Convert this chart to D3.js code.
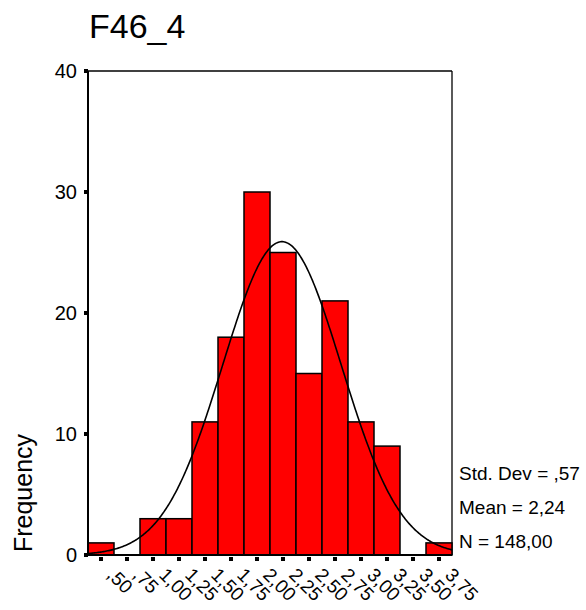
<!DOCTYPE html>
<html>
<head>
<meta charset="utf-8">
<script src="https://cdn.jsdelivr.net/npm/d3@7"></script>
<style>
html,body{margin:0;padding:0;background:#fff;}
svg{display:block;font-family:"Liberation Sans",Arial,Helvetica,sans-serif;}
</style>
</head>
<body>
<svg id="chart" width="586" height="610"></svg>
<script>
// ---- data ----
const binCenters = [0.50,0.75,1.00,1.25,1.50,1.75,2.00,2.25,2.50,2.75,3.00,3.25,3.50,3.75];
const frequencies = [1,0,3,3,11,18,30,25,15,21,11,9,0,1];
const xTickLabels = [",50",",75","1,00","1,25","1,50","1,75","2,00","2,25","2,50","2,75","3,00","3,25","3,50","3,75"];
const yTicks = [0,10,20,30,40];
const statLines = ["Std. Dev = ,57","Mean = 2,24","N = 148,00"];
const stdDev = 0.57, mean = 2.24, nCases = 148;
const binWidth = 0.25;
const title = "F46_4";
const yLabel = "Frequency";

// ---- layout ----
const svg = d3.select("#chart");
const pLeft = 88, pRight = 452, pTop = 71, pBottom = 555;
const x = d3.scaleLinear().domain([0.375, 3.875]).range([pLeft, pRight]);
const y = d3.scaleLinear().domain([0, 40]).range([pBottom, pTop]);

const bins = binCenters.map((c, i) => ({c, f: frequencies[i], label: xTickLabels[i]}));

// title
svg.append("text").attr("x", 89).attr("y", 38)
  .attr("font-size", 34).attr("fill", "#000").text(title);

// frame top/right
svg.append("line").attr("x1", pLeft).attr("x2", pRight).attr("y1", pTop).attr("y2", pTop)
  .attr("stroke", "#000").attr("stroke-width", 1.3);
svg.append("line").attr("x1", pRight).attr("x2", pRight).attr("y1", pTop).attr("y2", pBottom)
  .attr("stroke", "#000").attr("stroke-width", 1.3);

// bars
svg.append("g").selectAll("rect").data(bins.filter(b => b.f > 0)).join("rect")
  .attr("x", d => x(d.c - binWidth/2))
  .attr("width", d => x(d.c + binWidth/2) - x(d.c - binWidth/2))
  .attr("y", d => y(d.f))
  .attr("height", d => y(0) - y(d.f))
  .attr("fill", "#ff0000").attr("stroke", "#000").attr("stroke-width", 1.5);

// normal curve (from stated mean / std. dev / N)
const curveXs = d3.range(0.375, 3.8751, 0.01);
const dens = v => nCases * binWidth / (stdDev * Math.sqrt(2*Math.PI)) * Math.exp(-0.5*Math.pow((v-mean)/stdDev,2));
svg.append("path").datum(curveXs)
  .attr("d", d3.line().x(d => x(d)).y(d => y(dens(d))))
  .attr("fill", "none").attr("stroke", "#000").attr("stroke-width", 1.6);

// axes lines
svg.append("line").attr("x1", pLeft).attr("x2", pLeft).attr("y1", pTop).attr("y2", pBottom)
  .attr("stroke", "#000").attr("stroke-width", 2);
svg.append("line").attr("x1", pLeft).attr("x2", pRight).attr("y1", pBottom).attr("y2", pBottom)
  .attr("stroke", "#000").attr("stroke-width", 2);

// y ticks
const yg = svg.append("g");
yg.selectAll("rect").data(yTicks).join("rect")
  .attr("x", pLeft - 4).attr("y", d => y(d) - 2).attr("width", 4).attr("height", 4).attr("fill", "#000");
yg.selectAll("text").data(yTicks).join("text")
  .attr("x", 77).attr("y", d => y(d)).attr("dy", "0.36em")
  .attr("text-anchor", "end").attr("font-size", 20).text(d => d);

// x ticks
const xg = svg.append("g");
xg.selectAll("rect").data(bins).join("rect")
  .attr("x", d => x(d.c) - 2).attr("y", pBottom + 2).attr("width", 4).attr("height", 4).attr("fill", "#000");
xg.selectAll("text").data(bins).join("text")
  .attr("transform", d => `translate(${x(d.c) + 5},${pBottom + 21}) rotate(45)`)
  .attr("font-size", 19)
  .text(d => d.label);

// y label
svg.append("text").attr("transform", "translate(32,493) rotate(-90)")
  .attr("text-anchor", "middle").attr("font-size", 25).text(yLabel);

// stats
svg.append("g").selectAll("text").data(statLines).join("text")
  .attr("x", 459).attr("y", (d,i) => 480 + i*34)
  .attr("font-size", 19).text(d => d);
</script>
</body>
</html>
